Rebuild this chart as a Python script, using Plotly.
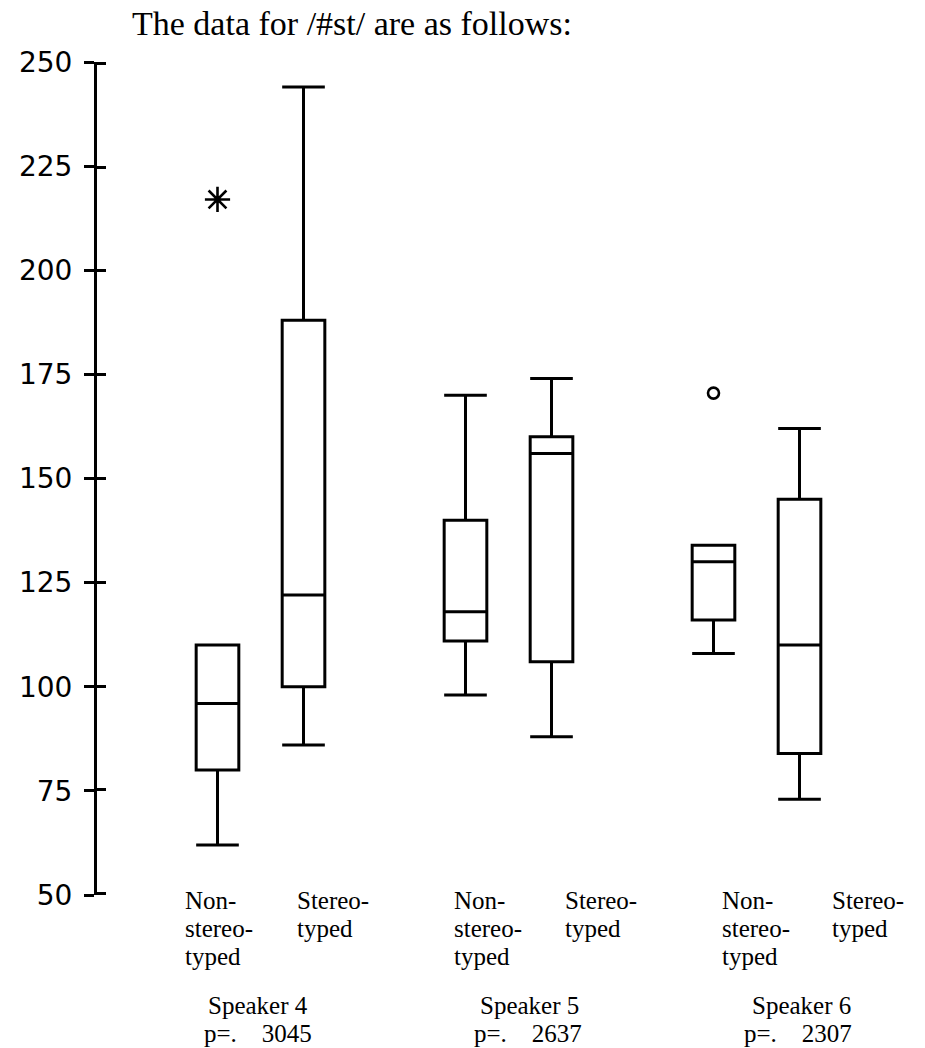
import plotly.graph_objects as go

# ---------------- data ----------------
speakers = ["Speaker 4", "Speaker 5", "Speaker 6"]
p_values = ["3045", "2637", "2307"]

non_lower = [62, 98, 108]
non_q1 = [80, 111, 116]
non_median = [96, 118, 130]
non_q3 = [110, 140, 134]
non_upper = [110, 170, 134]

st_lower = [86, 88, 73]
st_q1 = [100, 106, 84]
st_median = [122, 156, 110]
st_q3 = [188, 160, 145]
st_upper = [244, 174, 162]

extreme_speaker = [0]          # index into speakers (non-stereotyped)
extreme_value = [217]
outlier_speaker = [2]
outlier_value = [170.5]

y_ticks = [50, 75, 100, 125, 150, 175, 200, 225, 250]

non_label_lines = ["Non-", "stereo-", "typed"]
st_label_lines = ["Stereo-", "typed"]
title_text = "The data for /#st/ are as follows:"

# ---------------- layout constants ----------------
W, H = 925, 1048
ML, MR, MT, MB = 97, 25, 62, 153
PW, PH = W - ML - MR, H - MT - MB
OFF = 0.1734   # half distance between paired boxes (data units)
BOXW = 0.172

def px_x(px):
    return (px - ML) / PW

def px_y(py):
    return 1 - (py - MT) / PH

fig = go.Figure()

pos = list(range(len(speakers)))
box_line = dict(color="black", width=3)
fig.add_trace(go.Box(
    x=[p - OFF for p in pos], q1=non_q1, median=non_median, q3=non_q3,
    lowerfence=non_lower, upperfence=non_upper,
    width=BOXW, whiskerwidth=1, boxpoints=False,
    line=box_line, fillcolor="rgba(0,0,0,0)",
    showlegend=False, name="Non-stereotyped"))
fig.add_trace(go.Box(
    x=[p + OFF for p in pos], q1=st_q1, median=st_median, q3=st_q3,
    lowerfence=st_lower, upperfence=st_upper,
    width=BOXW, whiskerwidth=1, boxpoints=False,
    line=box_line, fillcolor="rgba(0,0,0,0)",
    showlegend=False, name="Stereotyped"))

fig.add_trace(go.Scatter(
    x=[s - OFF for s in extreme_speaker], y=extreme_value, mode="markers",
    marker=dict(symbol="asterisk-open", size=21, color="black",
                line=dict(color="black", width=2.6)),
    showlegend=False))
fig.add_trace(go.Scatter(
    x=[s - OFF for s in outlier_speaker], y=outlier_value, mode="markers",
    marker=dict(symbol="circle-open", size=11, color="black",
                line=dict(color="black", width=2.6)),
    showlegend=False))
# invisible helper trace so the inner (crossing) tick marks get drawn
fig.add_trace(go.Scatter(x=[0], y=[100], yaxis="y2", showlegend=False,
                         mode="markers", marker=dict(opacity=0),
                         hoverinfo="skip"))

x_range = [(ML - 260.5) / 248, (ML + PW - 260.5) / 248]

fig.update_layout(
    width=W, height=H, autosize=False,
    margin=dict(l=ML, r=MR, t=MT, b=MB, pad=0),
    paper_bgcolor="white", plot_bgcolor="white",
    xaxis=dict(range=x_range, showline=False, showgrid=False, zeroline=False,
               showticklabels=False, ticks=""),
    yaxis=dict(range=[50, 250], tickvals=y_ticks, ticks="outside", ticklen=10,
               tickwidth=2.6, tickcolor="black", showline=True, linewidth=3,
               linecolor="black", showgrid=False, zeroline=False,
               ticklabelstandoff=6,
               tickfont=dict(family="DejaVu Sans", size=28, color="black")),
    yaxis2=dict(range=[49.7, 250.3], tickvals=y_ticks, overlaying="y", side="left",
                anchor="x", ticks="inside", ticklen=9, tickwidth=2.6,
                tickcolor="black", showticklabels=False, showline=False,
                showgrid=False, zeroline=False),
)

serif = dict(family="Liberation Serif", color="black")
annotations = []

def add_text(text, left_px, baseline_px, size):
    center = baseline_px - 0.34 * size
    annotations.append(dict(
        text=text, xref="paper", yref="paper", x=px_x(left_px), y=px_y(center),
        xanchor="left", yanchor="middle", showarrow=False,
        font=dict(size=size, **serif)))

add_text(title_text, 130, 35, 34)

for k, spk in enumerate(speakers):
    for i, line in enumerate(non_label_lines):
        add_text(line, 183 + 268.5 * k, 909 + 28 * i, 25)
    for i, line in enumerate(st_label_lines):
        add_text(line, 295 + 267.5 * k, 909 + 28 * i, 25)
    add_text(spk, 206 + 272 * k, 1014, 25)
    add_text("p=.\u00a0\u00a0\u00a0\u00a0" + p_values[k], 202 + 270 * k, 1042, 25)

fig.update_layout(annotations=annotations)

fig.write_html("out.html")
